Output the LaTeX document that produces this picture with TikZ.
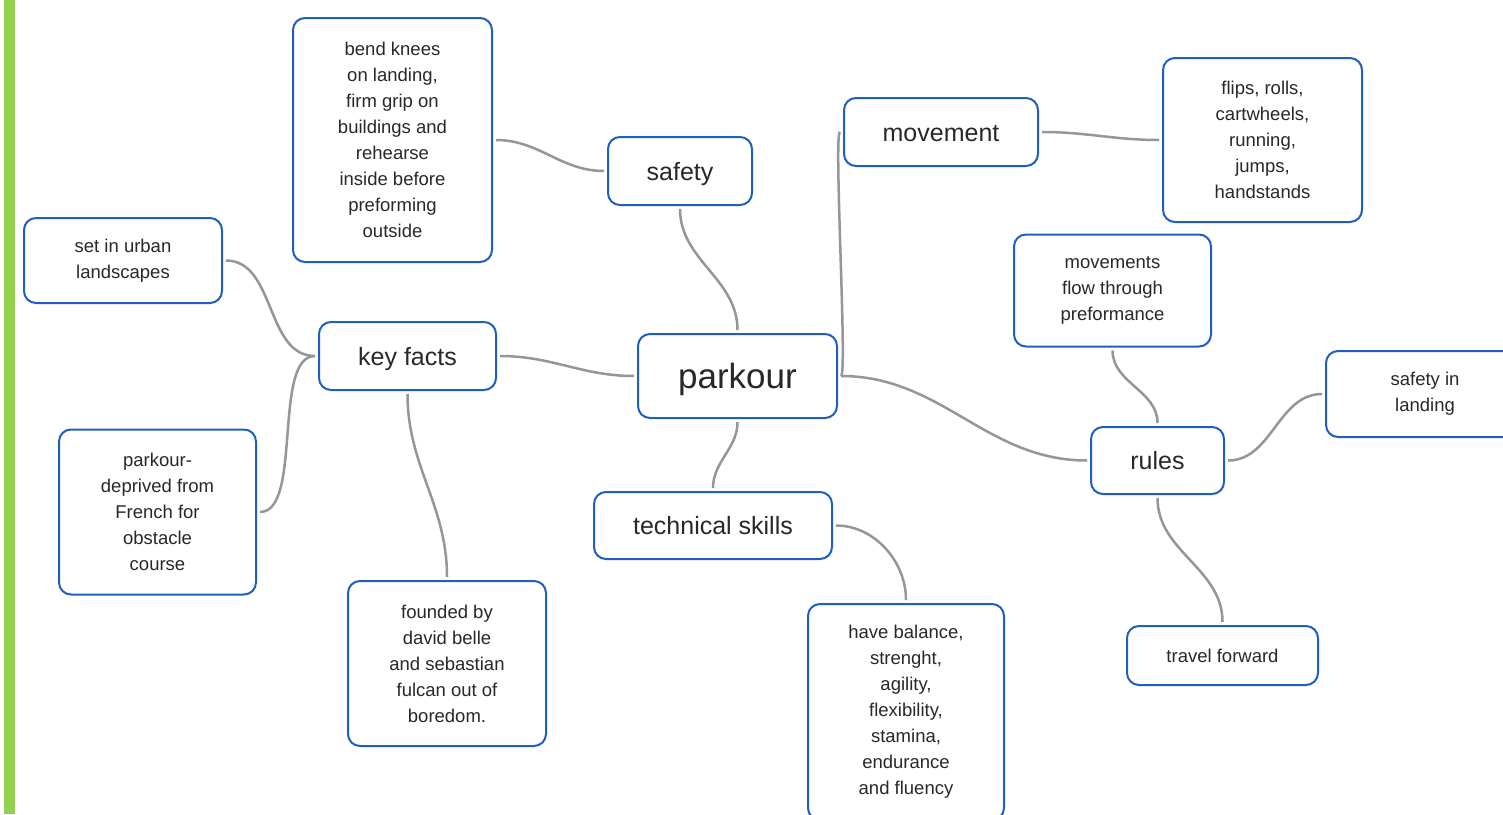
\documentclass[tikz,border=0pt]{standalone}
\usepackage{fontspec}
\setmainfont{Liberation Sans}
\usepackage{tikz}
\definecolor{boxblue}{RGB}{30,95,192}
\definecolor{linkgrey}{RGB}{150,150,150}
\definecolor{txtgrey}{RGB}{40,40,40}
\definecolor{bargreen}{RGB}{146,208,80}

\begin{document}
\begin{tikzpicture}[x=1pt, y=-1pt,
    box/.style={draw=boxblue, line width=2pt, rounded corners=12pt, fill=white,
        align=center, text=txtgrey, inner sep=0pt},
    small/.style={box, font=\fontsize{18.5}{26}\selectfont},
    big/.style={box, font=\fontsize{25}{30}\selectfont, text height=18pt, text depth=0pt},
    link/.style={draw=linkgrey, line width=2.5pt, shorten <=3pt, shorten >=3pt}]
    \useasboundingbox (0,0) rectangle (1503,814);
    \clip (0,0) rectangle (1503,814);
    \fill[white] (0,0) rectangle (1503,814);
    \fill[bargreen] (4,0) rectangle (15,814);

    % Central topic
    \node[big, minimum width=199, minimum height=84, font=\fontsize{35}{40}\selectfont,
        text height=24pt] (parkour) at (737.5,376) {parkour};

    % Main branches
    \node[big, minimum width=144, minimum height=68] (safety) at (680,171) {safety};
    \node[big, minimum width=194, minimum height=68] (movement) at (941,132) {movement};
    \node[big, minimum width=177, minimum height=68] (keyfacts) at (407.5,356) {key facts};
    \node[big, minimum width=133, minimum height=67] (rules) at (1157.5,460.5) {rules};
    \node[big, minimum width=238, minimum height=67] (technical) at (713,525.5) {technical skills};

    % Details
    \node[small, minimum width=199, minimum height=244] (knees) at (392.5,140)
        {bend knees\\on landing,\\firm grip on\\buildings and\\rehearse\\inside before\\preforming\\outside};
    \node[small, minimum width=199, minimum height=164] (flips) at (1262.5,140)
        {flips, rolls,\\cartwheels,\\running,\\jumps,\\handstands};
    \node[small, minimum width=198, minimum height=85] (urban) at (123,260.5)
        {set in urban\\landscapes};
    \node[small, minimum width=197, minimum height=165] (deprived) at (157.5,512)
        {parkour-\\deprived from\\French for\\obstacle\\course};
    \node[small, minimum width=198, minimum height=165] (founded) at (447,663.5)
        {founded by\\david belle\\and sebastian\\fulcan out of\\boredom.};
    \node[small, minimum width=197, minimum height=112] (flow) at (1112.5,290.5)
        {movements\\flow through\\preformance};
    \node[small, minimum width=198, minimum height=86] (landing) at (1425,394)
        {safety in\\landing};
    \node[small, minimum width=191, minimum height=59] (travel) at (1222.5,655.5)
        {travel forward};
    \node[small, minimum width=196, minimum height=216] (balance) at (906,712)
        {have balance,\\strenght,\\agility,\\flexibility,\\stamina,\\endurance\\and fluency};

    % Connectors
    \draw[link] (parkour.north) to[out=90, in=-90] (safety.south);
    \draw[link] (safety.west) to[out=180, in=0] (knees.east);
    \draw[link] (parkour.east) to[out=0, in=180, looseness=0.1] (movement.west);
    \draw[link] (movement.east) to[out=0, in=180] (flips.west);
    \draw[link] (parkour.east) to[out=0, in=180] (rules.west);
    \draw[link] (rules.north) to[out=90, in=-90] (flow.south);
    \draw[link] (rules.east) to[out=0, in=180] (landing.west);
    \draw[link] (rules.south) to[out=-90, in=90] (travel.north);
    \draw[link] (parkour.west) to[out=180, in=0] (keyfacts.east);
    \draw[link] (keyfacts.west) to[out=180, in=0] (urban.east);
    \draw[link] (keyfacts.west) to[out=180, in=0, looseness=0.7] (deprived.east);
    \draw[link] (keyfacts.south) to[out=-90, in=90] (founded.north);
    \draw[link] (parkour.south) to[out=-90, in=90] (technical.north);
    \draw[link] (technical.east) to[out=0, in=90] (balance.north);

\end{tikzpicture}
\end{document}
